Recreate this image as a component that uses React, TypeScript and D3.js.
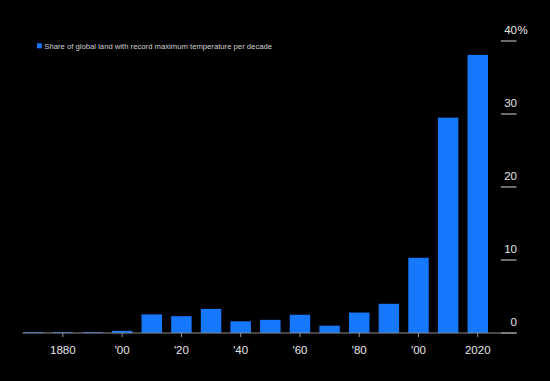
import React from "react";
import * as d3 from "d3";

const decades = [1870, 1880, 1890, 1900, 1910, 1920, 1930, 1940, 1950, 1960, 1970, 1980, 1990, 2000, 2010, 2020];
const shares = [0.12, 0.12, 0.12, 0.3, 2.55, 2.3, 3.3, 1.6, 1.8, 2.5, 1.0, 2.8, 4.0, 10.3, 29.5, 38.1];
const xTickDecades = [1880, 1900, 1920, 1940, 1960, 1980, 2000, 2020];
const xTickLabels = ["1880", "'00", "'20", "'40", "'60", "'80", "'00", "2020"];
const yTicks = [0, 10, 20, 30, 40];
const legendLabel = "Share of global land with record maximum temperature per decade";

const W = 550;
const H = 381;
const FONT = "'Liberation Sans', Arial, Helvetica, sans-serif";

export default function App() {
  const x = d3
    .scaleBand<number>()
    .domain(decades)
    .range([23, 488])
    .paddingInner(0.31)
    .paddingOuter(0);
  const y = d3.scaleLinear().domain([0, 40]).range([333, 41]);

  return (
    <svg
      width={W}
      height={H}
      style={{ position: "fixed", left: 0, top: 0, background: "#000" }}
    >
      <rect x={0} y={0} width={W} height={H} fill="#000" />
      {/* legend */}
      <rect x={37} y={43.3} width={4.8} height={5} fill="#1677ff" />
      <text x={44.3} y={48.8} fill="#d0d0d0" fontSize={7.7} fontFamily={FONT}>
        {legendLabel}
      </text>
      {/* y ticks */}
      {yTicks.map((t) => (
        <g key={t}>
          <line x1={501} x2={516.5} y1={y(t)} y2={y(t)} stroke="#d8d8d8" strokeWidth={1} />
          <text
            x={517}
            y={y(t) - 7.5}
            fill="#e6e6e6"
            fontSize={11.5}
            fontFamily={FONT}
            textAnchor="end"
          >
            {t}
          </text>
          {t === 40 && (
            <text x={517.5} y={y(t) - 7.5} fill="#e6e6e6" fontSize={11.5} fontFamily={FONT}>
              %
            </text>
          )}
        </g>
      ))}
      {/* bars */}
      {decades.map((d, i) => (
        <rect
          key={d}
          x={x(d)!}
          y={y(shares[i])}
          width={x.bandwidth()}
          height={y(0) - y(shares[i])}
          fill="#1677ff"
        />
      ))}
      {/* axis */}
      <line x1={22.5} x2={517} y1={333} y2={333} stroke="#8a8a8a" strokeWidth={1} />
      {xTickDecades.map((d, i) => {
        const cx = x(d)! + x.bandwidth() / 2;
        return (
          <g key={d}>
            <line x1={cx} x2={cx} y1={333} y2={337} stroke="#9a9a9a" strokeWidth={1} />
            <text
              x={cx}
              y={354}
              fill="#e6e6e6"
              fontSize={11.5}
              fontFamily={FONT}
              textAnchor="middle"
            >
              {xTickLabels[i]}
            </text>
          </g>
        );
      })}
    </svg>
  );
}
